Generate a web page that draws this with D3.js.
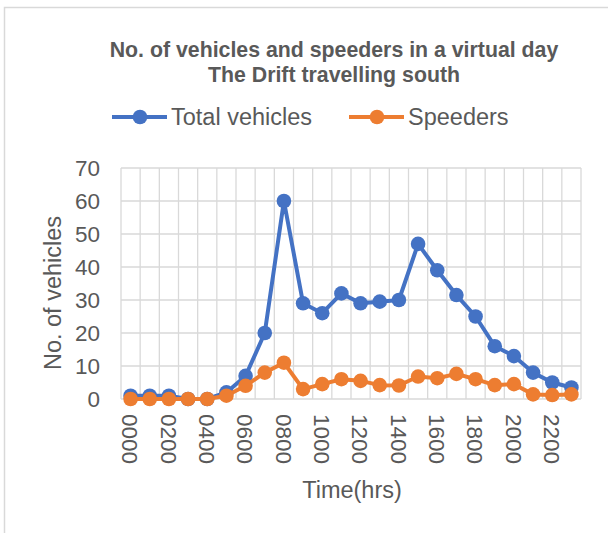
<!DOCTYPE html>
<html>
<head>
<meta charset="utf-8">
<script src="https://cdn.jsdelivr.net/npm/d3@7"></script>
<style>
  body { margin: 0; background: #fff; }
  text { font-family: "Liberation Sans", Arial, sans-serif; fill: #595959; }
</style>
</head>
<body>
<svg class="chart" width="608" height="533"></svg>
<script>
var hours = ["0000", "0100", "0200", "0300", "0400", "0500", "0600", "0700", "0800", "0900",
    "1000", "1100", "1200", "1300", "1400", "1500", "1600", "1700", "1800", "1900",
    "2000", "2100", "2200", "2300"];
var totalVehicles = [1, 1, 1, 0, 0, 2, 7, 20, 60, 29, 26, 32, 29, 29.5, 30, 47, 39, 31.5, 25, 16, 13, 8, 5, 3.5];
var speeders = [0, 0, 0, 0, 0, 1, 4, 8, 11, 3, 4.5, 6, 5.5, 4.2, 4.1, 6.8, 6.3, 7.6, 6, 4.2, 4.5, 1.4, 1.2, 1.4];
var yTicks = [0, 10, 20, 30, 40, 50, 60, 70];

var width = 608,
    height = 533;
var plot = { left: 121, right: 581, top: 168, bottom: 399 };

var chart = d3.select(".chart");

// outer chart border (only left and top visible)
chart.append("path")
    .attr("d", "M4.5,533V7.5H608")
    .style("fill", "none")
    .style("stroke", "#d9d9d9")
    .style("stroke-width", 1.5);

var x = d3.scaleBand()
    .domain(hours)
    .range([plot.left, plot.right]);

var y = d3.scaleLinear()
    .domain([0, 70])
    .range([plot.bottom, plot.top]);

// horizontal grid
chart.append("g")
    .selectAll("line")
    .data(yTicks)
    .enter()
    .append("line")
    .attr("x1", plot.left)
    .attr("x2", plot.right)
    .attr("y1", function (d) { return y(d); })
    .attr("y2", function (d) { return y(d); })
    .style("stroke", "#d9d9d9")
    .style("stroke-width", 1.3);

// vertical grid at category edges
var edges = hours.map(function (h) { return x(h); }).concat([plot.right]);
chart.append("g")
    .selectAll("line")
    .data(edges)
    .enter()
    .append("line")
    .attr("x1", function (d) { return d; })
    .attr("x2", function (d) { return d; })
    .attr("y1", plot.top)
    .attr("y2", plot.bottom)
    .style("stroke", "#d9d9d9")
    .style("stroke-width", 1.3);

// y tick labels
chart.append("g")
    .selectAll("text")
    .data(yTicks)
    .enter()
    .append("text")
    .attr("x", 100)
    .attr("y", function (d) { return y(d); })
    .attr("dy", "0.36em")
    .attr("text-anchor", "end")
    .style("font-size", "22.5px")
    .text(function (d) { return d; });

// x tick labels, every second hour, rotated
chart.append("g")
    .selectAll("text")
    .data(hours.filter(function (d, i) { return i % 2 === 0; }))
    .enter()
    .append("text")
    .attr("transform", function (d) {
        return "translate(" + (x(d) + x.bandwidth() / 2) + ",414) rotate(90)";
    })
    .attr("dy", "0.36em")
    .attr("text-anchor", "start")
    .style("font-size", "22.5px")
    .text(function (d) { return d; });

// axis titles
chart.append("text")
    .attr("transform", "translate(61,293) rotate(-90)")
    .attr("text-anchor", "middle")
    .style("font-size", "23.5px")
    .text("No. of vehicles");

chart.append("text")
    .attr("x", 352)
    .attr("y", 498)
    .attr("text-anchor", "middle")
    .style("font-size", "23.5px")
    .text("Time(hrs)");

// title
chart.append("text")
    .attr("x", 334)
    .attr("y", 57)
    .attr("text-anchor", "middle")
    .style("font-size", "21.3px")
    .style("font-weight", "bold")
    .text("No. of vehicles and speeders in a virtual day");

chart.append("text")
    .attr("x", 334)
    .attr("y", 82)
    .attr("text-anchor", "middle")
    .style("font-size", "21.3px")
    .style("font-weight", "bold")
    .text("The Drift travelling south");

// series
var series = [
    { name: "Total vehicles", values: totalVehicles, color: "#4472c4", lx: 112 },
    { name: "Speeders", values: speeders, color: "#ed7d31", lx: 349 }
];

var line = d3.line()
    .x(function (d, i) { return x(hours[i]) + x.bandwidth() / 2; })
    .y(function (d) { return y(d); });

series.forEach(function (s) {
    var g = chart.append("g");
    g.append("path")
        .datum(s.values)
        .attr("d", line)
        .style("fill", "none")
        .style("stroke", s.color)
        .style("stroke-width", 4)
        .style("stroke-linejoin", "round");
    g.selectAll("circle")
        .data(s.values)
        .enter()
        .append("circle")
        .attr("cx", function (d, i) { return x(hours[i]) + x.bandwidth() / 2; })
        .attr("cy", function (d) { return y(d); })
        .attr("r", 7.3)
        .style("fill", s.color);

    // legend
    var lg = chart.append("g");
    lg.append("line")
        .attr("x1", s.lx)
        .attr("x2", s.lx + 55)
        .attr("y1", 117)
        .attr("y2", 117)
        .style("stroke", s.color)
        .style("stroke-width", 4);
    lg.append("circle")
        .attr("cx", s.lx + 28)
        .attr("cy", 117)
        .attr("r", 7.3)
        .style("fill", s.color);
    lg.append("text")
        .attr("x", s.lx + 59)
        .attr("y", 117)
        .attr("dy", "0.36em")
        .style("font-size", "23.5px")
        .text(s.name);
});
</script>
</body>
</html>
